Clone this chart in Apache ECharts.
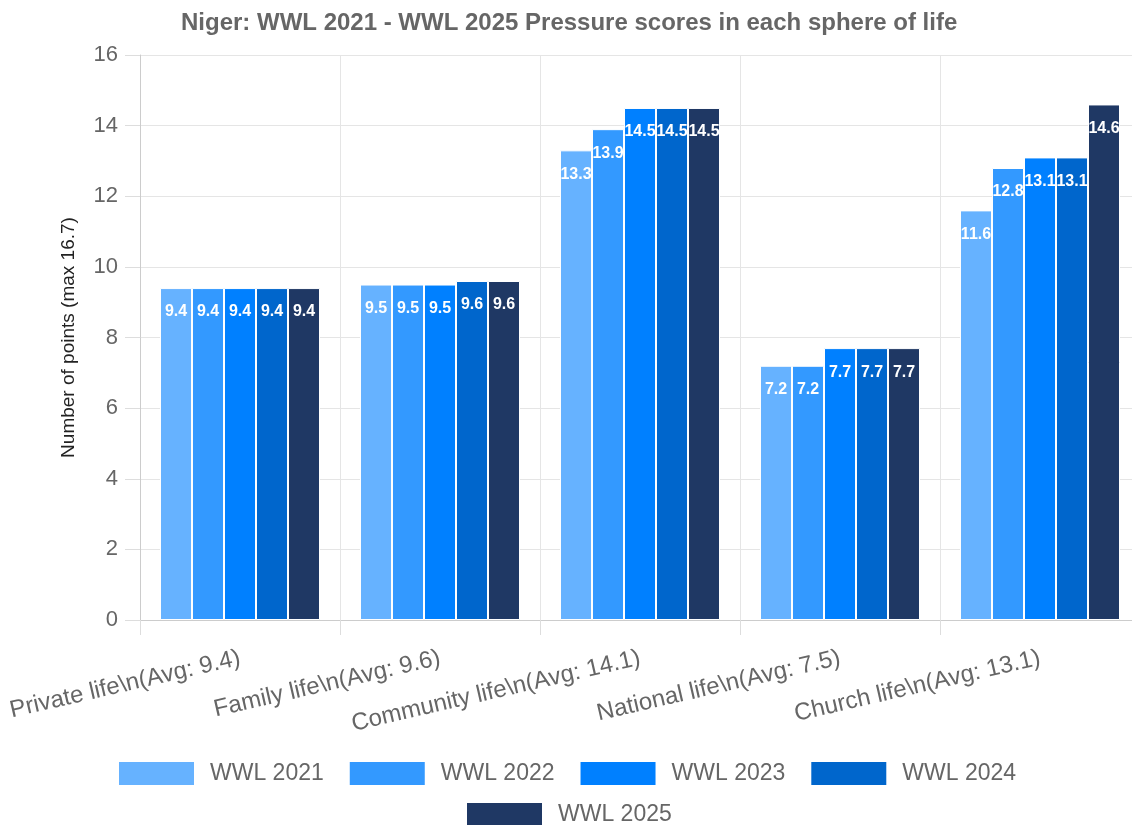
<!DOCTYPE html>
<html>
<head>
    <meta charset="utf-8">
    <title>Niger WWL pressure scores</title>
    <script src="https://cdn.jsdelivr.net/npm/echarts@6/dist/echarts.min.js"></script>
    <style>
        html, body { margin: 0; padding: 0; background: #fff; overflow: hidden; }
        /* 画布比窗口宽一点：原图右边被裁掉 */
        #chart1 { width: 1140px; height: 825px; }
    </style>
</head>
<body>
    <div id="chart1"></div>
    <script>
        // 类别（原图里的 \n 是字面文字）
        var spheres = [
            'Private life\\n(Avg: 9.4)',
            'Family life\\n(Avg: 9.6)',
            'Community life\\n(Avg: 14.1)',
            'National life\\n(Avg: 7.5)',
            'Church life\\n(Avg: 13.1)'
        ];
        var years = ['WWL 2021', 'WWL 2022', 'WWL 2023', 'WWL 2024', 'WWL 2025'];
        var wwl2021 = [9.4, 9.5, 13.3, 7.2, 11.6];
        var wwl2022 = [9.4, 9.5, 13.9, 7.2, 12.8];
        var wwl2023 = [9.4, 9.5, 14.5, 7.7, 13.1];
        var wwl2024 = [9.4, 9.6, 14.5, 7.7, 13.1];
        var wwl2025 = [9.4, 9.6, 14.5, 7.7, 14.6];
        var colors = ['#66b2ff', '#3399ff', '#0080ff', '#0066cc', '#1f3864'];

        var seriesData = [wwl2021, wwl2022, wwl2023, wwl2024, wwl2025];
        var font = 'Liberation Sans, Arial, sans-serif';

        // 图例两行，第二行居中
        var legendBase = {
            itemWidth: 77,
            itemHeight: 25,
            itemGap: 24,
            icon: 'rect',
            textStyle: { fontFamily: font, fontSize: 23, color: '#666', padding: [0, 0, 0, 10] }
        };

        var myChart1 = echarts.init(document.getElementById('chart1'));
        myChart1.setOption({
            animation: false,
            color: colors,
            title: {
                text: 'Niger: WWL 2021 - WWL 2025 Pressure scores in each sphere of life',
                left: 176,
                top: 6,
                textStyle: { fontFamily: font, fontSize: 24, fontWeight: 'bold', color: '#666' }
            },
            legend: [
                Object.assign({}, legendBase, { data: years.slice(0, 4), left: 112, top: 755 }),
                Object.assign({}, legendBase, { data: years.slice(4), left: 460, top: 796 })
            ],
            grid: { left: 140, right: 0, top: 55, bottom: 205 },
            xAxis: {
                type: 'category',
                data: spheres,
                axisLine: { lineStyle: { color: '#ccc' } },
                axisTick: { show: true, length: 15, lineStyle: { color: '#ddd' } },
                splitLine: { show: true, lineStyle: { color: '#e5e5e5' } },
                axisLabel: {
                    rotate: 13,
                    margin: 38,
                    interval: 0,
                    fontFamily: font,
                    fontSize: 24,
                    color: '#666'
                }
            },
            yAxis: {
                type: 'value',
                min: 0,
                max: 16,
                interval: 2,
                name: 'Number of points (max 16.7)',
                nameLocation: 'middle',
                nameGap: 62,
                nameTextStyle: { fontFamily: font, fontSize: 19, color: '#222' },
                axisLine: { show: true, lineStyle: { color: '#ccc' } },
                axisTick: { show: true, length: 15, lineStyle: { color: '#ddd' } },
                splitLine: { lineStyle: { color: '#e5e5e5' } },
                axisLabel: { margin: 22, fontFamily: font, fontSize: 22, color: '#666' }
            },
            series: years.map(function (name, i) {
                return {
                    name: name,
                    type: 'bar',
                    data: seriesData[i],
                    barGap: '0%',
                    barCategoryGap: '20%',
                    itemStyle: { borderColor: '#fff', borderWidth: 1 },
                    label: {
                        show: true,
                        position: 'insideTop',
                        distance: 16,
                        color: '#fff',
                        fontFamily: font,
                        fontSize: 16,
                        fontWeight: 'bold'
                    }
                };
            })
        });
    </script>
</body>
</html>
